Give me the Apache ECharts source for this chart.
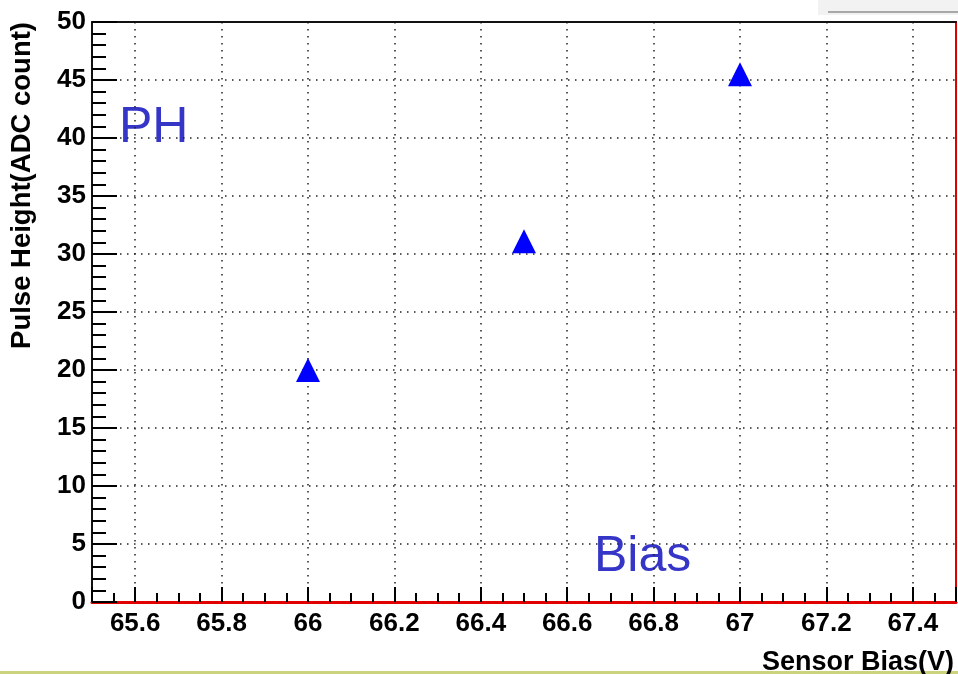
<!DOCTYPE html>
<html>
<head>
    <meta charset="utf-8">
    <title>Pulse Height vs Sensor Bias</title>
</head>
<body style="margin:0;background:#fff;">
<div id="main" style="width:958px;height:674px;"></div>
<script src="https://cdn.jsdelivr.net/npm/echarts@6/dist/echarts.min.js" type="text/javascript"></script>
<script type="text/javascript">

// readings taken off the plot
var bias = [66, 66.5, 67];
var pulseHeight = [20, 31.1, 45.5];
var xTitle = 'Sensor Bias(V)';
var yTitle = 'Pulse Height(ADC count)';

var main = document.getElementById('main');
var myChart = echarts.init(main);

var points = [];
for (var i = 0; i < bias.length; i++)
    points.push([bias[i], pulseHeight[i]]);

var tickFont = {
    color: '#000',
    fontFamily: 'Liberation Sans',
    fontWeight: 'bold',
    fontSize: 26
};
var gridDots = {
    show: true,
    lineStyle: { color: '#222', width: 1.5, type: [1.5, 5.5] }
};

var option = {
    animation: false,
    backgroundColor: '#fff',
    grid: { left: 92, right: 2, top: 22, bottom: 72, containLabel: false, outerBoundsMode: 'none' },
    xAxis: [{
        type: 'value',
        min: 65.5,
        max: 67.5,
        splitNumber: 10,
        axisLine: { show: true, onZero: false, lineStyle: { color: '#e00000', width: 3 } },
        axisTick: { show: true, inside: true, length: 15, lineStyle: { color: '#000', width: 2 } },
        minorTick: { show: true, splitNumber: 4, length: 9, lineStyle: { color: '#000', width: 2 } },
        axisLabel: Object.assign({ margin: 9, showMinLabel: false, showMaxLabel: false }, tickFont),
        splitLine: gridDots,
        name: xTitle,
        nameLocation: 'end',
        nameGap: 0,
        nameTextStyle: {
            color: '#000', fontFamily: 'Liberation Sans', fontWeight: 'bold', fontSize: 27,
            align: 'right', verticalAlign: 'top', padding: [47, 2, 0, 0]
        }
    }, {
        type: 'value',
        position: 'top',
        min: 65.5,
        max: 67.5,
        axisLine: { show: true, onZero: false, lineStyle: { color: '#111', width: 2 } },
        axisTick: { show: false },
        axisLabel: { show: false },
        splitLine: { show: false }
    }],
    yAxis: [{
        type: 'value',
        min: 0,
        max: 50,
        interval: 5,
        axisLine: { show: true, onZero: false, lineStyle: { color: '#111', width: 2 } },
        axisTick: { show: true, inside: true, length: 25, lineStyle: { color: '#000', width: 2 } },
        minorTick: { show: true, splitNumber: 5, length: 14, lineStyle: { color: '#000', width: 2 } },
        axisLabel: Object.assign({ margin: 6 }, tickFont),
        splitLine: gridDots
    }, {
        type: 'value',
        position: 'right',
        min: 0,
        max: 50,
        axisLine: { show: true, onZero: false, lineStyle: { color: '#e00000', width: 2 } },
        axisTick: { show: false },
        axisLabel: { show: false },
        splitLine: { show: false }
    }],
    graphic: [{
        type: 'rect',
        left: 818, top: 0,
        shape: { width: 140, height: 15 },
        style: { fill: '#f2f2f2' },
        silent: true
    }, {
        type: 'rect',
        left: 828, top: 11,
        shape: { width: 130, height: 2 },
        style: { fill: '#a8a8a8' },
        silent: true
    }, {
        // y axis title, reads bottom to top, ends near the top of the frame
        type: 'text',
        x: 22, y: 22,
        rotation: Math.PI / 2,
        style: {
            text: yTitle, fill: '#000',
            font: 'bold 27.5px "Liberation Sans"',
            align: 'right', verticalAlign: 'middle'
        },
        silent: true
    }, {
        type: 'text',
        left: 119, top: 103,
        style: { text: 'PH', fill: '#3535c8', font: '50px "Liberation Sans"' },
        silent: true
    }, {
        type: 'text',
        left: 594, top: 532,
        style: { text: 'Bias', fill: '#3535c8', font: '50px "Liberation Sans"' },
        silent: true
    }, {
        type: 'rect',
        left: 0, top: 671,
        shape: { width: 958, height: 3 },
        style: { fill: '#cbd37c' },
        silent: true
    }],
    series: [{
        type: 'scatter',
        xAxisIndex: 0,
        yAxisIndex: 0,
        symbol: 'triangle',
        symbolSize: 24,
        itemStyle: { color: '#0000ff', opacity: 1 },
        data: points
    }]
};

myChart.setOption(option);
</script>
</body>
</html>
